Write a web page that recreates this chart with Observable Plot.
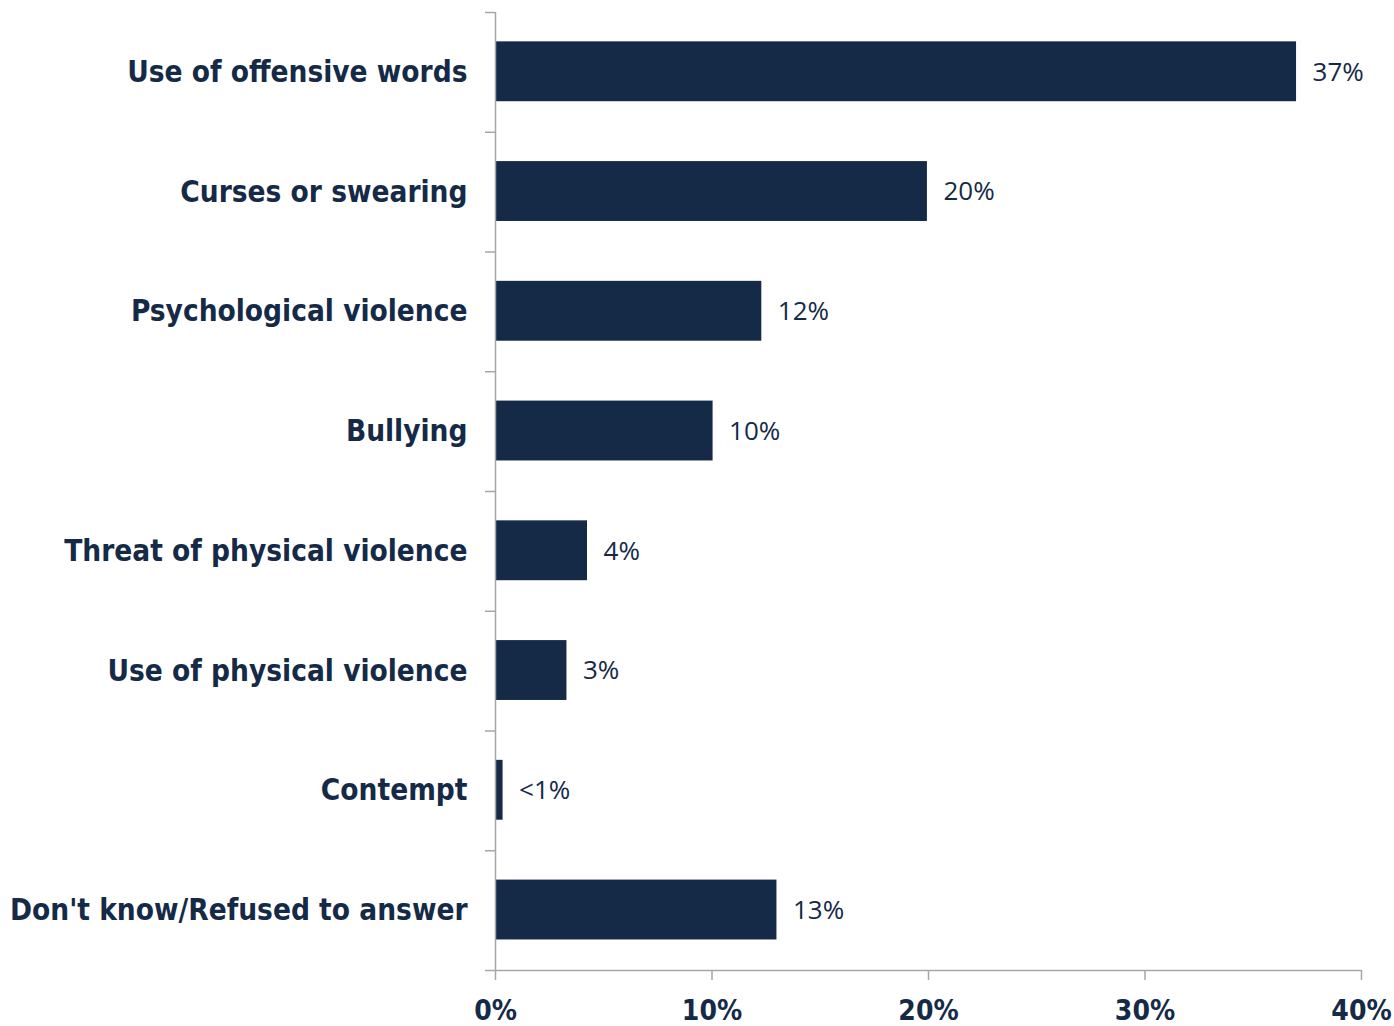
<!DOCTYPE html>
<html>
<head>
<meta charset="utf-8">
<script src="https://cdn.jsdelivr.net/npm/d3@7"></script>
<script src="https://cdn.jsdelivr.net/npm/@observablehq/plot@0.6"></script>
<style>
  html, body { margin: 0; padding: 0; background: #ffffff; }
  #chart { width: 1394px; height: 1026px; }
</style>
</head>
<body>
<div id="chart"></div>
<script>
const categories = [
  "Use of offensive words",
  "Curses or swearing",
  "Psychological violence",
  "Bullying",
  "Threat of physical violence",
  "Use of physical violence",
  "Contempt",
  "Don't know/Refused to answer"
];
const values = [37.0, 19.95, 12.3, 10.05, 4.25, 3.3, 0.35, 13.0];
const valueLabels = ["37%", "20%", "12%", "10%", "4%", "3%", "<1%", "13%"];
const xTicks = [0, 10, 20, 30, 40];

const navy = "#152a47";
const grey = "#a6a6a6";

const rows = categories.map((c, i) => ({ category: c, i, value: values[i], label: valueLabels[i] }));
const centers = categories.map((c, i) => i + 0.5);
const boundaries = d3.range(0, categories.length + 1);

const chart = Plot.plot({
  width: 1394,
  height: 1026,
  marginLeft: 495,
  marginRight: 33,
  marginTop: 12,
  marginBottom: 56,
  x: { domain: [0, 40] },
  y: { domain: [0, categories.length], reverse: true },
  marks: [
    Plot.rectX(rows, { x1: 0, x2: "value", y1: d => d.i + 0.245, y2: d => d.i + 0.745, fill: navy }),
    Plot.text(rows, { x: "value", y: d => d.i + 0.5, text: "label", textAnchor: "start", dx: 16,
      fill: navy, fontSize: 26, fontFamily: "Open Sans" }),
    Plot.ruleX([0], { stroke: grey, strokeWidth: 1.5 }),
    Plot.ruleY([categories.length], { stroke: grey, strokeWidth: 1.5 }),
    Plot.axisY({ ticks: boundaries, tickFormat: () => "", tickSize: 10, stroke: grey, strokeWidth: 1.5, strokeOpacity: 1, label: null }),
    Plot.axisY({ ticks: centers, tickFormat: d => categories[Math.floor(d)], tickSize: 0, tickPadding: 28,
      fill: navy, fontSize: 29.5, fontWeight: "bold", fontFamily: "DejaVu Sans Condensed", label: null }),
    Plot.axisX({ ticks: xTicks, tickFormat: d => d + "%", tickSize: 10, tickPadding: 20,
      stroke: grey, strokeWidth: 1.5, strokeOpacity: 1, fill: navy, fontSize: 28, fontWeight: "bold",
      fontFamily: "DejaVu Sans Condensed", label: null })
  ]
});
document.getElementById("chart").appendChild(chart);
</script>
</body>
</html>
